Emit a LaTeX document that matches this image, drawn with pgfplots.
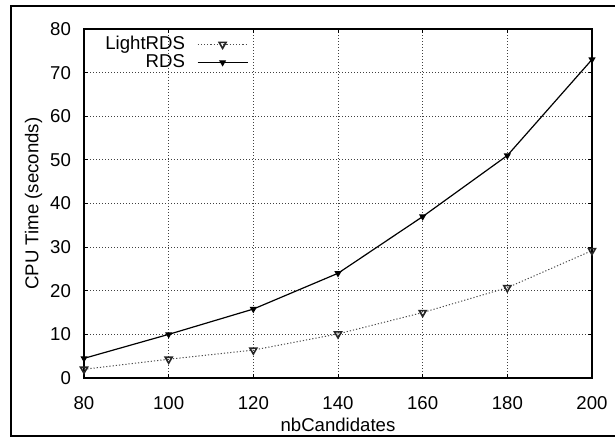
\documentclass[border=0pt]{standalone}
\usepackage{fontspec}
\setmainfont{Liberation Sans}
\usepackage{pgfplots}
\pgfplotsset{compat=1.18}
\begin{document}
\begin{tikzpicture}
\useasboundingbox (0pt,0pt) rectangle (307.5pt,218.5pt);
\draw[line width=1pt] (5.5pt,0.5pt) rectangle (312pt,215.5pt);
\begin{axis}[
  at={(42pt,29.5pt)}, anchor=south west,
  scale only axis, width=254pt, height=174.5pt,
  xmin=80, xmax=200, ymin=0, ymax=80,
  xtick={80,100,...,200}, ytick={0,10,...,80},
  font=\fontsize{9.3}{10}\selectfont,
  /pgf/number format/assume math mode=true,
  tick align=inside, tick pos=both, major tick length=2pt,
  tick style={black, line width=0.5pt},
  axis line style={line width=0.6pt},
  grid=major,
  grid style={black!75, line width=0.4pt, dash pattern=on 0.5pt off 1pt},
  yticklabel style={xshift=-3pt},
  xticklabel style={yshift=-5.5pt},
  xlabel={nbCandidates}, ylabel={CPU Time (seconds)},
  x label style={at={(axis description cs:0.5,0)}, anchor=base, yshift=-27pt},
  y label style={at={(axis description cs:-0.0994,0.5)}, anchor=center},
  legend plot pos=right,
  legend cell align=right,
  legend style={draw=none, fill=none, at={(axis description cs:0,1)}, anchor=north west,
    xshift=10.5pt, yshift=-3.5pt, inner sep=0pt, column sep=6pt, row sep=1pt,
    nodes={inner sep=0pt, text height=6.5pt, text depth=1.5pt, font=\fontsize{9.3}{10}\selectfont}},
  legend image code/.code={\draw[mark repeat=2,mark phase=2,#1] plot coordinates {(0pt,0pt) (12.5pt,0pt) (25pt,0pt)};},
]
\addplot[black!70, line width=0.5pt, dash pattern=on 0.6pt off 1pt, mark=triangle, mark size=2pt,
  mark options={solid, rotate=180, black!85, line width=0.8pt, fill=black!45}]
  coordinates {(80,2.0) (100,4.3) (120,6.4) (140,10.1) (160,15.0) (180,20.7) (200,29.2)};
\addlegendentry{LightRDS}
\addplot[black, line width=0.6pt, mark=triangle*, mark size=1.5pt, mark options={solid, rotate=180}]
  coordinates {(80,4.5) (100,10.0) (120,15.8) (140,24.0) (160,37.0) (180,51.0) (200,73.0)};
\addlegendentry{RDS}
\end{axis}
\end{tikzpicture}
\end{document}
